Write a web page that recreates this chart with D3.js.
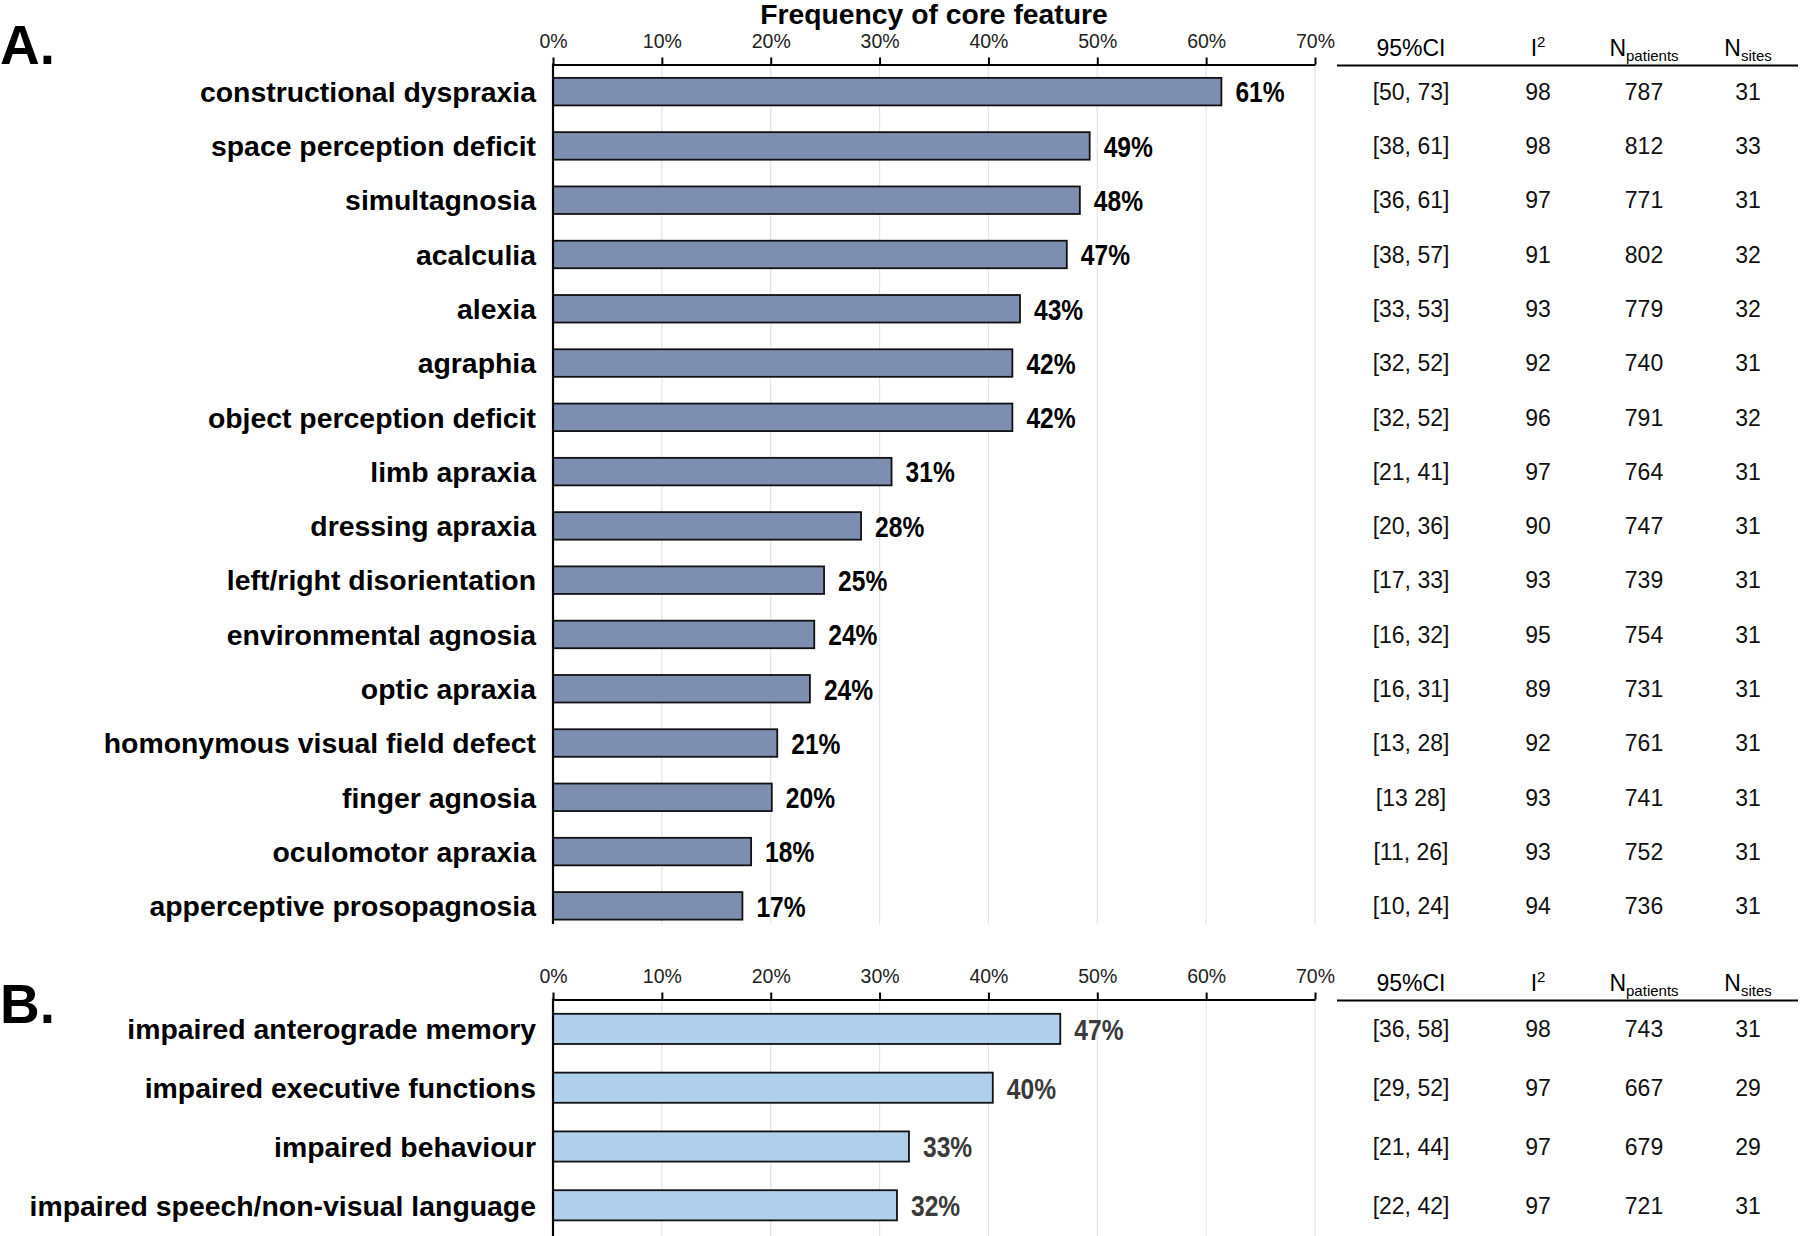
<!DOCTYPE html>
<html><head><meta charset="utf-8">
<script src="https://cdn.jsdelivr.net/npm/d3@7"></script>
<style>
body{margin:0;background:#fff;}
svg{display:block;}
</style></head>
<body><svg id="c" width="1800" height="1236"></svg>
<script>
// ---- data ----
const catsA = ["constructional dyspraxia","space perception deficit","simultagnosia","acalculia","alexia","agraphia","object perception deficit","limb apraxia","dressing apraxia","left/right disorientation","environmental agnosia","optic apraxia","homonymous visual field defect","finger agnosia","oculomotor apraxia","apperceptive prosopagnosia"];
const valsA = [61.4,49.3,48.4,47.2,42.9,42.2,42.2,31.1,28.3,24.9,24.0,23.6,20.6,20.1,18.2,17.4];
const labelsA = ["61%","49%","48%","47%","43%","42%","42%","31%","28%","25%","24%","24%","21%","20%","18%","17%"];
const ciA = ["[50, 73]","[38, 61]","[36, 61]","[38, 57]","[33, 53]","[32, 52]","[32, 52]","[21, 41]","[20, 36]","[17, 33]","[16, 32]","[16, 31]","[13, 28]","[13 28]","[11, 26]","[10, 24]"];
const i2A = [98,98,97,91,93,92,96,97,90,93,95,89,92,93,93,94];
const npA = [787,812,771,802,779,740,791,764,747,739,754,731,761,741,752,736];
const nsA = [31,33,31,32,32,31,32,31,31,31,31,31,31,31,31,31];

const catsB = ["impaired anterograde memory","impaired executive functions","impaired behaviour","impaired speech/non-visual language"];
const valsB = [46.6,40.4,32.7,31.6];
const labelsB = ["47%","40%","33%","32%"];
const ciB = ["[36, 58]","[29, 52]","[21, 44]","[22, 42]"];
const i2B = [98,97,97,97];
const npB = [743,667,679,721];
const nsB = [31,29,29,31];

const xTicks = [0,10,20,30,40,50,60,70];
const title = "Frequency of core feature";

// ---- drawing ----
const svg = d3.select("#c");
const SANS = "'Liberation Sans',Arial,sans-serif";
const SX = 0.82; // condensed look for value labels (Arial Narrow-like)
const x = d3.scaleLinear().domain([0,70]).range([553,1315]);
const colX = {ci:1411, i2:1538, np:1644, ns:1748};

function panel(opts){
  const {cats, vals, labels, ci, i2, np, ns, y0, y1, pad, fill, labColor, letter, letterY, bottom} = opts;
  const y = d3.scaleBand().domain(cats).range([y0,y1]).paddingInner(pad).paddingOuter(pad/2);
  const g = svg.append("g");
  // grid
  g.selectAll("line.grid").data(xTicks.slice(1)).join("line")
    .attr("x1",d=>x(d)).attr("x2",d=>x(d)).attr("y1",y0).attr("y2",bottom)
    .attr("stroke","#e4e4e4").attr("stroke-width",1.2);
  // bars
  g.selectAll("rect.bar").data(cats).join("rect")
    .attr("x",x(0)).attr("y",d=>y(d)).attr("height",y.bandwidth())
    .attr("width",(d,i)=>x(vals[i])-x(0))
    .attr("fill",fill).attr("stroke","#111").attr("stroke-width",1.8);
  // value labels (narrow bold)
  g.selectAll("text.val").data(cats).join("text")
    .attr("transform",(d,i)=>`translate(${x(vals[i])+14},${y(d)+y.bandwidth()/2}) scale(${SX},1)`)
    .attr("dy","0.36em").attr("font-family",SANS).attr("font-weight","bold").attr("font-size",30)
    .attr("fill",labColor).text((d,i)=>labels[i]);
  // category labels
  g.selectAll("text.cat").data(cats).join("text")
    .attr("x",536).attr("y",d=>y(d)+y.bandwidth()/2).attr("dy","0.36em")
    .attr("text-anchor","end").attr("font-family",SANS)
    .attr("font-weight","bold").attr("font-size",28.4)
    .attr("fill","#000").text(d=>d);
  // axis
  const ax = g.append("g").attr("transform",`translate(0,${y0})`)
    .call(d3.axisTop(x).tickValues(xTicks).tickFormat(d=>d+"%").tickSizeInner(7).tickSizeOuter(0).tickPadding(10));
  ax.select(".domain").attr("stroke","#000").attr("stroke-width",2.2);
  ax.selectAll(".tick line").attr("stroke","#000").attr("stroke-width",2);
  ax.selectAll(".tick text").attr("font-family",SANS).attr("font-size",19.5).attr("fill","#222");
  // left axis line
  g.append("line").attr("x1",x(0)).attr("x2",x(0)).attr("y1",y0-1).attr("y2",bottom)
    .attr("stroke","#000").attr("stroke-width",2.2);
  // panel letter
  g.append("text").attr("x",0).attr("y",letterY).attr("font-family",SANS).attr("font-weight","bold")
    .attr("font-size",55).text(letter);
  // table header
  const hy = y0 - 9;
  g.append("line").attr("x1",1337).attr("x2",1798).attr("y1",y0+1).attr("y2",y0+1)
    .attr("stroke","#000").attr("stroke-width",2.2);
  const hdr = g.append("g").attr("font-family",SANS).attr("font-size",23).attr("fill","#000");
  hdr.append("text").attr("x",colX.ci).attr("y",hy).attr("text-anchor","middle").text("95%CI");
  const t2 = hdr.append("text").attr("x",colX.i2).attr("y",hy).attr("text-anchor","middle");
  t2.append("tspan").text("I");
  t2.append("tspan").attr("font-size",15).attr("dy",-9).text("2");
  const t3 = hdr.append("text").attr("x",colX.np).attr("y",hy).attr("text-anchor","middle");
  t3.append("tspan").text("N");
  t3.append("tspan").attr("font-size",15).attr("dy",5).text("patients");
  const t4 = hdr.append("text").attr("x",colX.ns).attr("y",hy).attr("text-anchor","middle");
  t4.append("tspan").text("N");
  t4.append("tspan").attr("font-size",15).attr("dy",5).text("sites");
  // table rows
  const cols = [["ci",ci],["i2",i2],["np",np],["ns",ns]];
  cols.forEach(([k,arr])=>{
    g.selectAll("text.t"+k).data(cats).join("text")
      .attr("x",colX[k]).attr("y",d=>y(d)+y.bandwidth()/2).attr("dy","0.36em")
      .attr("text-anchor","middle").attr("font-family",SANS).attr("font-size",23)
      .attr("fill","#111").text((d,i)=>arr[i]);
  });
}

svg.append("text").attr("x",934).attr("y",23.5).attr("text-anchor","middle")
  .attr("font-family",SANS).attr("font-weight","bold").attr("font-size",28.3).text(title);

panel({cats:catsA, vals:valsA, labels:labelsA, ci:ciA, i2:i2A, np:npA, ns:nsA,
  y0:64.5, y1:933, pad:0.493, fill:"#7e8eb0", labColor:"#000", letter:"A.", letterY:64, bottom:924});
panel({cats:catsB, vals:valsB, labels:labelsB, ci:ciB, i2:i2B, np:npB, ns:nsB,
  y0:999.5, y1:1234.7, pad:0.487, fill:"#b0cfeb", labColor:"#3a3a3a", letter:"B.", letterY:1023, bottom:1236});
</script></body></html>
